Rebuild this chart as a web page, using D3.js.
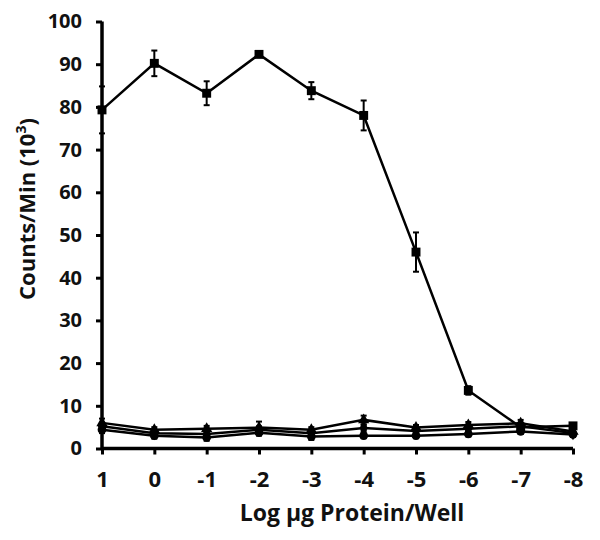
<!DOCTYPE html>
<html>
<head>
<meta charset="utf-8">
<script src="https://cdn.jsdelivr.net/npm/d3@7"></script>
<style>
  body { margin: 0; background: #fff; }
  svg { display: block; }
  text { font-family: "Open Sans", Lato, sans-serif; font-weight: bold; fill: #111; }
</style>
</head>
<body>
<svg id="chart" width="600" height="540"></svg>
<script>
const xValues = [1, 0, -1, -2, -3, -4, -5, -6, -7, -8];
const yTicks = [0, 10, 20, 30, 40, 50, 60, 70, 80, 90, 100];

const squareValues = [79.3, 90.2, 83.2, 92.3, 83.8, 78.0, 46.0, 13.6, 5.0, 5.3];
const squareErrors = [5.5, 3.0, 2.8, 0.5, 2.0, 3.5, 4.6, 1.0, 1.0, 0.5];

const triangleValues = [6.0, 4.4, 4.6, 4.9, 4.4, 6.7, 4.9, 5.5, 5.9, 4.0];
const triangleErrors = [1.0, 0.6, 0.7, 1.4, 0.6, 1.0, 0.6, 0.7, 0.8, 0.6];

const diamondValues = [5.2, 3.6, 3.4, 4.4, 3.6, 4.8, 4.1, 4.6, 5.2, 3.6];
const diamondErrors = [0.8, 0.6, 0.6, 0.8, 0.6, 0.7, 0.6, 0.6, 0.7, 0.6];

const circleValues = [4.4, 3.0, 2.6, 3.7, 2.8, 3.0, 3.0, 3.4, 4.0, 3.3];
const circleErrors = [0.8, 0.7, 0.8, 0.7, 0.8, 0.6, 0.6, 0.6, 0.6, 0.6];

const series = [
  { values: circleValues, errors: circleErrors, symbol: d3.symbolCircle, size: 60 },
  { values: diamondValues, errors: diamondErrors, symbol: d3.symbolDiamond, size: 60 },
  { values: triangleValues, errors: triangleErrors, symbol: d3.symbolTriangle, size: 55 },
  { values: squareValues, errors: squareErrors, symbol: d3.symbolSquare, size: 80 }
];

const svg = d3.select("#chart");
const x = d3.scaleLinear().domain([1, -8]).range([102, 573]);
const y = d3.scaleLinear().domain([0, 100]).range([448.5, 21.5]);
const fmt = d => String(d);

// Axes
const yAxis = svg.append("g")
  .attr("transform", `translate(${x(1)},0)`)
  .call(d3.axisLeft(y).tickValues(yTicks).tickSize(6).tickPadding(14).tickFormat(fmt));
const xAxis = svg.append("g")
  .attr("transform", `translate(0,${y(0)})`)
  .call(d3.axisBottom(x).tickValues(xValues).tickSize(6).tickPadding(17).tickFormat(fmt));

[yAxis, xAxis].forEach(g => {
  g.select(".domain").attr("stroke", "#000").attr("stroke-width", 3.5);
  g.selectAll(".tick line").attr("stroke", "#000").attr("stroke-width", 3);
  g.selectAll(".tick text").attr("fill", "#111")
    .style("font-family", "'Open Sans', Lato, sans-serif").style("font-weight", "bold");
});
yAxis.selectAll(".tick text").style("font-size", "20px");
xAxis.selectAll(".tick text").style("font-size", "22px");
yAxis.select(".domain").attr("d", `M0,${y(100)}V${y(0)}`);
xAxis.select(".domain").attr("d", `M${x(1)},0H${x(-8)}`);

// Series
const line = d3.line().x((d, i) => x(xValues[i])).y(d => y(d));
series.forEach(s => {
  const g = svg.append("g");
  g.append("path").datum(s.values)
    .attr("d", line).attr("fill", "none").attr("stroke", "#000").attr("stroke-width", 2.5);
  s.values.forEach((v, i) => {
    const cx = x(xValues[i]);
    const e = s.errors[i];
    g.append("line").attr("x1", cx).attr("x2", cx).attr("y1", y(v + e)).attr("y2", y(v - e))
      .attr("stroke", "#000").attr("stroke-width", 2);
    [v + e, v - e].forEach(w => {
      g.append("line").attr("x1", cx - 3).attr("x2", cx + 3).attr("y1", y(w)).attr("y2", y(w))
        .attr("stroke", "#000").attr("stroke-width", 2);
    });
    g.append("path").attr("d", d3.symbol().type(s.symbol).size(s.size)())
      .attr("transform", `translate(${cx},${y(v)})`).attr("fill", "#000");
  });
});

// Axis titles
svg.append("text").attr("x", 352).attr("y", 521).attr("text-anchor", "middle")
  .style("font-size", "23px").text("Log µg Protein/Well");
const yl = svg.append("text").attr("transform", "translate(35,209) rotate(-90)")
  .attr("text-anchor", "middle").style("font-size", "22px");
yl.append("tspan").text("Counts/Min (10");
yl.append("tspan").attr("dy", -9).style("font-size", "14px").text("3");
yl.append("tspan").attr("dy", 9).text(")");
</script>
</body>
</html>
